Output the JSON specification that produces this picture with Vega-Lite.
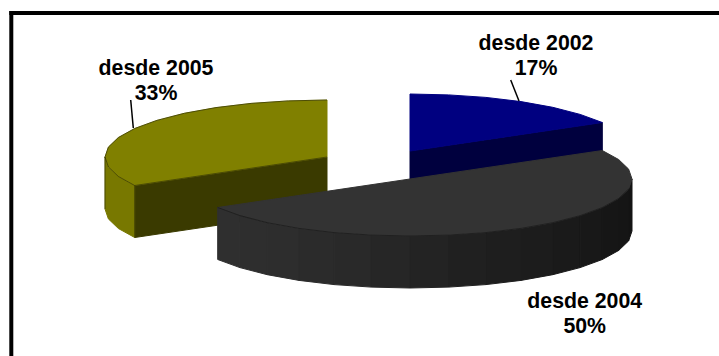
{"$schema":"https://vega.github.io/schema/vega-lite/v6.json","width":719,"height":356,"autosize":{"type":"fit","contains":"padding"},"padding":0,"background":"white","config":{"view":{"stroke":null}},
"datasets":{
"frame":[{"x":9.3,"x2":13.3,"y":11,"y2":356},{"x":9.3,"x2":719,"y":11,"y2":15}],
"faces":[
{"part":"2005 wall","n":1,"x":327,"y":157},{"part":"2005 wall","n":2,"x":134.7,"y":185.5},{"part":"2005 wall","n":3,"x":134.7,"y":237.5},{"part":"2005 wall","n":4,"x":327,"y":209},{"part":"2005 wall","n":5,"x":327,"y":157},
{"part":"2005 rim","n":1,"x":105,"y":157},{"part":"2005 rim","n":2,"x":108.4,"y":166.9},{"part":"2005 rim","n":3,"x":118.4,"y":176.5},{"part":"2005 rim","n":4,"x":134.7,"y":185.5},{"part":"2005 rim","n":5,"x":134.7,"y":237.5},{"part":"2005 rim","n":6,"x":118.4,"y":228.5},{"part":"2005 rim","n":7,"x":108.4,"y":218.9},{"part":"2005 rim","n":8,"x":105,"y":209},{"part":"2005 rim","n":9,"x":105,"y":157},
{"part":"2005 top","n":1,"x":327,"y":157},{"part":"2005 top","n":2,"x":327,"y":100},{"part":"2005 top","n":3,"x":288.4,"y":100.9},{"part":"2005 top","n":4,"x":251.1,"y":103.4},{"part":"2005 top","n":5,"x":216,"y":107.6},{"part":"2005 top","n":6,"x":184.3,"y":113.3},{"part":"2005 top","n":7,"x":156.9,"y":120.4},{"part":"2005 top","n":8,"x":134.7,"y":128.5},{"part":"2005 top","n":9,"x":118.4,"y":137.5},{"part":"2005 top","n":10,"x":108.4,"y":147.1},{"part":"2005 top","n":11,"x":105,"y":157},{"part":"2005 top","n":12,"x":108.4,"y":166.9},{"part":"2005 top","n":13,"x":118.4,"y":176.5},{"part":"2005 top","n":14,"x":134.7,"y":185.5},{"part":"2005 top","n":15,"x":327,"y":157},
{"part":"2002 wall","n":1,"x":410,"y":151},{"part":"2002 wall","n":2,"x":602.3,"y":122.5},{"part":"2002 wall","n":3,"x":602.3,"y":174.5},{"part":"2002 wall","n":4,"x":410,"y":203},{"part":"2002 wall","n":5,"x":410,"y":151},
{"part":"2002 top","n":1,"x":410,"y":151},{"part":"2002 top","n":2,"x":410,"y":94},{"part":"2002 top","n":3,"x":448.6,"y":94.9},{"part":"2002 top","n":4,"x":485.9,"y":97.4},{"part":"2002 top","n":5,"x":521,"y":101.6},{"part":"2002 top","n":6,"x":552.7,"y":107.3},{"part":"2002 top","n":7,"x":580.1,"y":114.4},{"part":"2002 top","n":8,"x":602.3,"y":122.5},{"part":"2002 top","n":9,"x":410,"y":151},
{"part":"2004 band 01","n":1,"x":217.7,"y":207.5},{"part":"2004 band 01","n":2,"x":239.9,"y":215.6},{"part":"2004 band 01","n":3,"x":239.9,"y":267.6},{"part":"2004 band 01","n":4,"x":217.7,"y":259.5},{"part":"2004 band 01","n":5,"x":217.7,"y":207.5},
{"part":"2004 band 02","n":1,"x":239.9,"y":215.6},{"part":"2004 band 02","n":2,"x":267.3,"y":222.7},{"part":"2004 band 02","n":3,"x":267.3,"y":274.7},{"part":"2004 band 02","n":4,"x":239.9,"y":267.6},{"part":"2004 band 02","n":5,"x":239.9,"y":215.6},
{"part":"2004 band 03","n":1,"x":267.3,"y":222.7},{"part":"2004 band 03","n":2,"x":299,"y":228.4},{"part":"2004 band 03","n":3,"x":299,"y":280.4},{"part":"2004 band 03","n":4,"x":267.3,"y":274.7},{"part":"2004 band 03","n":5,"x":267.3,"y":222.7},
{"part":"2004 band 04","n":1,"x":299,"y":228.4},{"part":"2004 band 04","n":2,"x":334.1,"y":232.6},{"part":"2004 band 04","n":3,"x":334.1,"y":284.6},{"part":"2004 band 04","n":4,"x":299,"y":280.4},{"part":"2004 band 04","n":5,"x":299,"y":228.4},
{"part":"2004 band 05","n":1,"x":334.1,"y":232.6},{"part":"2004 band 05","n":2,"x":371.4,"y":235.1},{"part":"2004 band 05","n":3,"x":371.4,"y":287.1},{"part":"2004 band 05","n":4,"x":334.1,"y":284.6},{"part":"2004 band 05","n":5,"x":334.1,"y":232.6},
{"part":"2004 band 06","n":1,"x":371.4,"y":235.1},{"part":"2004 band 06","n":2,"x":410,"y":236},{"part":"2004 band 06","n":3,"x":410,"y":288},{"part":"2004 band 06","n":4,"x":371.4,"y":287.1},{"part":"2004 band 06","n":5,"x":371.4,"y":235.1},
{"part":"2004 band 07","n":1,"x":410,"y":236},{"part":"2004 band 07","n":2,"x":448.6,"y":235.1},{"part":"2004 band 07","n":3,"x":448.6,"y":287.1},{"part":"2004 band 07","n":4,"x":410,"y":288},{"part":"2004 band 07","n":5,"x":410,"y":236},
{"part":"2004 band 08","n":1,"x":448.6,"y":235.1},{"part":"2004 band 08","n":2,"x":485.9,"y":232.6},{"part":"2004 band 08","n":3,"x":485.9,"y":284.6},{"part":"2004 band 08","n":4,"x":448.6,"y":287.1},{"part":"2004 band 08","n":5,"x":448.6,"y":235.1},
{"part":"2004 band 09","n":1,"x":485.9,"y":232.6},{"part":"2004 band 09","n":2,"x":521,"y":228.4},{"part":"2004 band 09","n":3,"x":521,"y":280.4},{"part":"2004 band 09","n":4,"x":485.9,"y":284.6},{"part":"2004 band 09","n":5,"x":485.9,"y":232.6},
{"part":"2004 band 10","n":1,"x":521,"y":228.4},{"part":"2004 band 10","n":2,"x":552.7,"y":222.7},{"part":"2004 band 10","n":3,"x":552.7,"y":274.7},{"part":"2004 band 10","n":4,"x":521,"y":280.4},{"part":"2004 band 10","n":5,"x":521,"y":228.4},
{"part":"2004 band 11","n":1,"x":552.7,"y":222.7},{"part":"2004 band 11","n":2,"x":580.1,"y":215.6},{"part":"2004 band 11","n":3,"x":580.1,"y":267.6},{"part":"2004 band 11","n":4,"x":552.7,"y":274.7},{"part":"2004 band 11","n":5,"x":552.7,"y":222.7},
{"part":"2004 band 12","n":1,"x":580.1,"y":215.6},{"part":"2004 band 12","n":2,"x":602.3,"y":207.5},{"part":"2004 band 12","n":3,"x":602.3,"y":259.5},{"part":"2004 band 12","n":4,"x":580.1,"y":267.6},{"part":"2004 band 12","n":5,"x":580.1,"y":215.6},
{"part":"2004 band 13","n":1,"x":602.3,"y":207.5},{"part":"2004 band 13","n":2,"x":618.6,"y":198.5},{"part":"2004 band 13","n":3,"x":618.6,"y":250.5},{"part":"2004 band 13","n":4,"x":602.3,"y":259.5},{"part":"2004 band 13","n":5,"x":602.3,"y":207.5},
{"part":"2004 band 14","n":1,"x":618.6,"y":198.5},{"part":"2004 band 14","n":2,"x":628.6,"y":188.9},{"part":"2004 band 14","n":3,"x":628.6,"y":240.9},{"part":"2004 band 14","n":4,"x":618.6,"y":250.5},{"part":"2004 band 14","n":5,"x":618.6,"y":198.5},
{"part":"2004 band 15","n":1,"x":628.6,"y":188.9},{"part":"2004 band 15","n":2,"x":632,"y":179},{"part":"2004 band 15","n":3,"x":632,"y":231},{"part":"2004 band 15","n":4,"x":628.6,"y":240.9},{"part":"2004 band 15","n":5,"x":628.6,"y":188.9},
{"part":"2004 top","n":1,"x":602.3,"y":150.5},{"part":"2004 top","n":2,"x":618.6,"y":159.5},{"part":"2004 top","n":3,"x":628.6,"y":169.1},{"part":"2004 top","n":4,"x":632,"y":179},{"part":"2004 top","n":5,"x":628.6,"y":188.9},{"part":"2004 top","n":6,"x":618.6,"y":198.5},{"part":"2004 top","n":7,"x":602.3,"y":207.5},{"part":"2004 top","n":8,"x":580.1,"y":215.6},{"part":"2004 top","n":9,"x":552.7,"y":222.7},{"part":"2004 top","n":10,"x":521,"y":228.4},{"part":"2004 top","n":11,"x":485.9,"y":232.6},{"part":"2004 top","n":12,"x":448.6,"y":235.1},{"part":"2004 top","n":13,"x":410,"y":236},{"part":"2004 top","n":14,"x":371.4,"y":235.1},{"part":"2004 top","n":15,"x":334.1,"y":232.6},{"part":"2004 top","n":16,"x":299,"y":228.4},{"part":"2004 top","n":17,"x":267.3,"y":222.7},{"part":"2004 top","n":18,"x":239.9,"y":215.6},{"part":"2004 top","n":19,"x":217.7,"y":207.5},{"part":"2004 top","n":20,"x":602.3,"y":150.5}
],
"edges":[
{"edge":"2004 rim","n":1,"x":628.6,"y":188.9},{"edge":"2004 rim","n":2,"x":618.6,"y":198.5},{"edge":"2004 rim","n":3,"x":602.3,"y":207.5},{"edge":"2004 rim","n":4,"x":580.1,"y":215.6},{"edge":"2004 rim","n":5,"x":552.7,"y":222.7},{"edge":"2004 rim","n":6,"x":521,"y":228.4},{"edge":"2004 rim","n":7,"x":485.9,"y":232.6},{"edge":"2004 rim","n":8,"x":448.6,"y":235.1},{"edge":"2004 rim","n":9,"x":410,"y":236},{"edge":"2004 rim","n":10,"x":371.4,"y":235.1},{"edge":"2004 rim","n":11,"x":334.1,"y":232.6},{"edge":"2004 rim","n":12,"x":299,"y":228.4},{"edge":"2004 rim","n":13,"x":267.3,"y":222.7},{"edge":"2004 rim","n":14,"x":239.9,"y":215.6},{"edge":"2004 rim","n":15,"x":217.7,"y":207.5},
{"edge":"2005 rim","n":1,"x":105,"y":157},{"edge":"2005 rim","n":2,"x":108.4,"y":166.9},{"edge":"2005 rim","n":3,"x":118.4,"y":176.5},{"edge":"2005 rim","n":4,"x":134.7,"y":185.5},{"edge":"2005 rim","n":5,"x":327,"y":157},
{"edge":"2005 corner","n":1,"x":134.7,"y":185.5},{"edge":"2005 corner","n":2,"x":134.7,"y":237.5},
{"edge":"2005 outline","n":1,"x":105,"y":209},{"edge":"2005 outline","n":2,"x":105,"y":157},{"edge":"2005 outline","n":3,"x":108.4,"y":147.1},{"edge":"2005 outline","n":4,"x":118.4,"y":137.5},{"edge":"2005 outline","n":5,"x":134.7,"y":128.5},{"edge":"2005 outline","n":6,"x":156.9,"y":120.4},{"edge":"2005 outline","n":7,"x":184.3,"y":113.3},{"edge":"2005 outline","n":8,"x":216,"y":107.6},{"edge":"2005 outline","n":9,"x":251.1,"y":103.4},{"edge":"2005 outline","n":10,"x":288.4,"y":100.9},{"edge":"2005 outline","n":11,"x":327,"y":100}
],
"leaders":[{"x":130.7,"y":100,"x2":133.3,"y2":128},{"x":510.7,"y":80,"x2":519,"y2":101}],
"labels":[{"serie":"desde 2005","share":"33%","x":156,"y":75},{"serie":"desde 2002","share":"17%","x":536,"y":50},{"serie":"desde 2004","share":"50%","x":584.7,"y":308}]
},
"layer":[
{"data":{"name":"faces"},"mark":{"type":"line","filled":true,"strokeWidth":1,"strokeJoin":"round"},
"encoding":{
"x":{"field":"x","type":"quantitative","scale":{"domain":[0,719],"nice":false,"zero":false},"axis":null},
"y":{"field":"y","type":"quantitative","scale":{"domain":[356,0],"nice":false,"zero":false},"axis":null},
"order":{"field":"n","type":"quantitative"},
"fill":{"field":"part","type":"nominal","legend":null,"scale":{
"domain":["2005 wall","2005 rim","2005 top","2002 wall","2002 top","2004 band 01","2004 band 02","2004 band 03","2004 band 04","2004 band 05","2004 band 06","2004 band 07","2004 band 08","2004 band 09","2004 band 10","2004 band 11","2004 band 12","2004 band 13","2004 band 14","2004 band 15","2004 top"],
"range":["#3a3a00","#787800","#808000","#00003e","#000080","#2f2f2f","#2e2e2e","#2d2d2d","#2b2b2b","#292929","#262626","#232323","#202020","#1e1e1e","#1c1c1c","#1a1a1a","#181818","#161616","#151515","#141414","#333333"]}},
"stroke":{"field":"part","type":"nominal","legend":null,"scale":{
"domain":["2005 wall","2005 rim","2005 top","2002 wall","2002 top","2004 band 01","2004 band 02","2004 band 03","2004 band 04","2004 band 05","2004 band 06","2004 band 07","2004 band 08","2004 band 09","2004 band 10","2004 band 11","2004 band 12","2004 band 13","2004 band 14","2004 band 15","2004 top"],
"range":["#3a3a00","#787800","#808000","#00003e","#000080","#2f2f2f","#2e2e2e","#2d2d2d","#2b2b2b","#292929","#262626","#232323","#202020","#1e1e1e","#1c1c1c","#1a1a1a","#181818","#161616","#151515","#141414","#333333"]}}
}},
{"data":{"name":"edges"},"mark":{"type":"line","color":"#0a0a0a","strokeWidth":0.8,"opacity":0.55},
"encoding":{
"x":{"field":"x","type":"quantitative"},
"y":{"field":"y","type":"quantitative"},
"order":{"field":"n","type":"quantitative"},
"detail":{"field":"edge","type":"nominal"}
}},
{"data":{"name":"frame"},"mark":{"type":"rect","color":"#000000"},
"encoding":{
"x":{"field":"x","type":"quantitative"},"x2":{"field":"x2"},
"y":{"field":"y","type":"quantitative"},"y2":{"field":"y2"}
}},
{"data":{"name":"leaders"},"mark":{"type":"rule","color":"#000000","strokeWidth":1.5},
"encoding":{
"x":{"field":"x","type":"quantitative"},"x2":{"field":"x2"},
"y":{"field":"y","type":"quantitative"},"y2":{"field":"y2"}
}},
{"data":{"name":"labels"},"mark":{"type":"text","font":"Liberation Sans","fontWeight":"bold","fontSize":21.3,"align":"center","baseline":"alphabetic","color":"#000000"},
"encoding":{"x":{"field":"x","type":"quantitative"},"y":{"field":"y","type":"quantitative"},"text":{"field":"serie"}}},
{"data":{"name":"labels"},"mark":{"type":"text","font":"Liberation Sans","fontWeight":"bold","fontSize":21.3,"align":"center","baseline":"alphabetic","color":"#000000","dy":25},
"encoding":{"x":{"field":"x","type":"quantitative"},"y":{"field":"y","type":"quantitative"},"text":{"field":"share"}}}
]}
